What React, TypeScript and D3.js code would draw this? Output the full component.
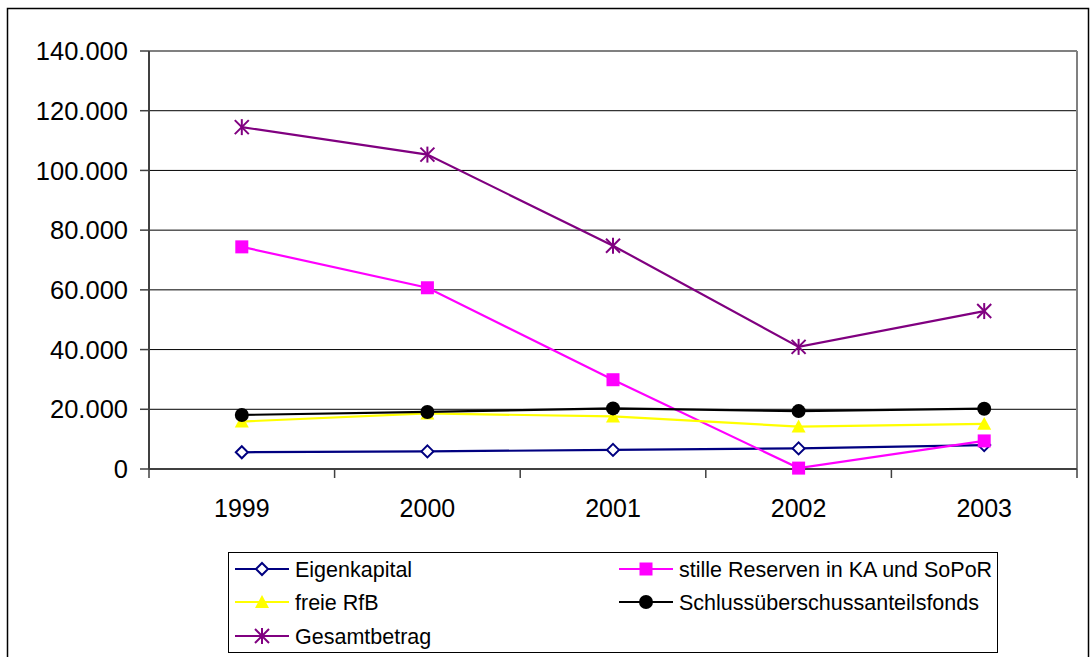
import React from "react";
import * as d3 from "d3";

const categories = ["1999", "2000", "2001", "2002", "2003"];
const eigenkapital = [5600, 5900, 6400, 6900, 8000];
const stilleReserven = [74400, 60700, 29900, 300, 9400];
const freieRfB = [15900, 18600, 17600, 14200, 15100];
const schluss = [18100, 19100, 20300, 19400, 20200];
const gesamt = [114500, 105300, 74800, 40900, 52900];
const yTicks = [0, 20000, 40000, 60000, 80000, 100000, 120000, 140000];

type Series = { name: string; values: number[]; color: string; marker: string };
const series: Series[] = [
  { name: "Eigenkapital", values: eigenkapital, color: "#000080", marker: "diamond" },
  { name: "stille Reserven in KA und SoPoR", values: stilleReserven, color: "#FF00FF", marker: "square" },
  { name: "freie RfB", values: freieRfB, color: "#FFFF00", marker: "triangle" },
  { name: "Schlussüberschussanteilsfonds", values: schluss, color: "#000000", marker: "circle" },
  { name: "Gesamtbetrag", values: gesamt, color: "#800080", marker: "star" },
];

const W = 1090, H = 657;
const plot = { left: 149, right: 1077, top: 51, bottom: 469 };
const FONT = "'Liberation Sans', Arial, sans-serif";

function Marker({ type, x, y, color }: { type: string; x: number; y: number; color: string }) {
  if (type === "diamond") {
    const s = 6;
    return <path d={`M${x},${y - s}L${x + s},${y}L${x},${y + s}L${x - s},${y}Z`} fill="#fff" stroke={color} strokeWidth={2} />;
  }
  if (type === "square") {
    const s = 6.5;
    return <rect x={x - s} y={y - s} width={2 * s} height={2 * s} fill={color} />;
  }
  if (type === "triangle") {
    const s = 7;
    return <path d={`M${x},${y - s}L${x + s},${y + s * 0.85}L${x - s},${y + s * 0.85}Z`} fill={color} />;
  }
  if (type === "circle") {
    return <circle cx={x} cy={y} r={7} fill={color} />;
  }
  const s = 7;
  return (
    <g stroke={color} strokeWidth={2}>
      <line x1={x - s} y1={y - s} x2={x + s} y2={y + s} />
      <line x1={x - s} y1={y + s} x2={x + s} y2={y - s} />
      <line x1={x} y1={y - s - 1} x2={x} y2={y + s + 1} />
    </g>
  );
}

export default function App() {
  const x = d3.scaleBand<string>().domain(categories).range([plot.left, plot.right]);
  const y = d3.scaleLinear().domain([0, 140000]).range([plot.bottom, plot.top]);
  const cx = (c: string) => (x(c) as number) + x.bandwidth() / 2;
  const line = d3
    .line<number>()
    .x((_, i) => cx(categories[i]))
    .y((v) => y(v));
  const fmt = (v: number) => (v === 0 ? "0" : d3.format(",")(v).replace(/,/g, "."));
  const boundaries = categories.map((c) => x(c) as number).concat([plot.right]);

  const legendRows = [
    { s: series[0], lx: 235, ly: 569 },
    { s: series[1], lx: 619, ly: 569 },
    { s: series[2], lx: 235, ly: 602 },
    { s: series[3], lx: 619, ly: 602 },
    { s: series[4], lx: 235, ly: 636 },
  ];

  return (
    <svg width={W} height={H} style={{ position: "absolute", left: 0, top: 0, background: "#fff" }} fontFamily={FONT}>
      <rect x={0} y={0} width={W} height={H} fill="#fff" />
      <rect x={7.5} y={8.5} width={1081} height={700} fill="none" stroke="#000" strokeWidth={1.5} />
      {/* gridlines */}
      {yTicks.slice(1, -1).map((t) => (
        <line key={t} x1={plot.left} x2={plot.right} y1={y(t)} y2={y(t)} stroke="#000" strokeWidth={1} />
      ))}
      {/* plot border top/right */}
      <line x1={plot.left} x2={plot.right} y1={plot.top} y2={plot.top} stroke="#808080" strokeWidth={2} />
      <line x1={plot.right} x2={plot.right} y1={plot.top} y2={plot.bottom} stroke="#808080" strokeWidth={2} />
      {/* axes */}
      <line x1={plot.left} x2={plot.left} y1={plot.top} y2={plot.bottom} stroke="#404040" strokeWidth={2} />
      <line x1={plot.left} x2={plot.right} y1={plot.bottom} y2={plot.bottom} stroke="#404040" strokeWidth={2} />
      {yTicks.map((t) => (
        <g key={t}>
          <line x1={140} x2={plot.left} y1={y(t)} y2={y(t)} stroke="#404040" strokeWidth={1.5} />
          <text x={128} y={y(t)} dy="0.36em" textAnchor="end" fontSize={25.5} fill="#000">
            {fmt(t)}
          </text>
        </g>
      ))}
      {boundaries.map((b, i) => (
        <line key={i} x1={b} x2={b} y1={plot.bottom} y2={478} stroke="#404040" strokeWidth={1.5} />
      ))}
      {categories.map((c) => (
        <text key={c} x={cx(c)} y={517} textAnchor="middle" fontSize={25} fill="#000">
          {c}
        </text>
      ))}
      {/* series */}
      {series.map((s) => (
        <g key={s.name}>
          <path d={line(s.values) || ""} fill="none" stroke={s.color} strokeWidth={2.2} />
          {s.values.map((v, i) => (
            <Marker key={i} type={s.marker} x={cx(categories[i])} y={y(v)} color={s.color} />
          ))}
        </g>
      ))}
      {/* legend */}
      <rect x={228.5} y={552.5} width={769} height={100} fill="#fff" stroke="#000" strokeWidth={1} />
      {legendRows.map(({ s, lx, ly }) => (
        <g key={s.name}>
          <line x1={lx} x2={lx + 54} y1={ly} y2={ly} stroke={s.color} strokeWidth={2.2} />
          <Marker type={s.marker} x={lx + 27} y={ly} color={s.color} />
          <text x={lx + 60} y={ly} dy="0.36em" fontSize={21.5} fill="#000">
            {s.name}
          </text>
        </g>
      ))}
    </svg>
  );
}
